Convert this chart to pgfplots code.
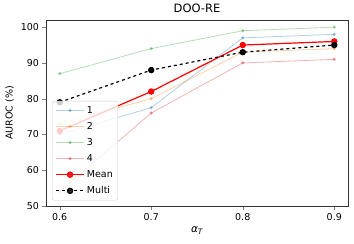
\documentclass[border=0pt]{standalone}
\usepackage{pgfplots}
\pgfplotsset{compat=1.18}
\usepackage{fontspec}
\setmainfont{DejaVu Sans}
\definecolor{tabblue}{HTML}{1F77B4}
\definecolor{taborange}{HTML}{FF7F0E}
\definecolor{tabgreen}{HTML}{2CA02C}
\definecolor{tabred}{HTML}{D62728}
\pgfplotsset{
  longleg/.style={
    legend image code/.code={
      \draw[mark repeat=2,mark phase=2] plot coordinates {(0cm,0cm) (0.5cm,0cm) (1cm,0cm)};
    }
  }
}
\begin{document}
\begin{tikzpicture}
\begin{axis}[
  at={(0pt,0pt)}, anchor=south west,
  scale only axis, width=302pt, height=186pt,
  xmin=0.585, xmax=0.915, ymin=50, ymax=102,
  xtick={0.6,0.7,0.8,0.9}, ytick={50,60,70,80,90,100},
  xticklabels={0.6,0.7,0.8,0.9},
  tick align=outside, tick pos=left,
  major tick length=3.5pt,
  /pgf/number format/assume math mode=true,
  tick label style={font=\fontsize{9.5}{11}\selectfont},
  title={DOO-RE}, title style={font=\fontsize{11.5}{13}\selectfont, yshift=-2pt},
  ylabel={AUROC (\%)}, ylabel style={font=\fontsize{9.5}{11}\selectfont},
  xlabel={\textit{α}\raisebox{-0.35ex}{\fontsize{7.5}{8}\selectfont\textit{T}}}, xlabel style={font=\fontsize{10.5}{12}\selectfont},
  axis line style={black!80},
  legend style={at={(0.02,0.03)}, anchor=south west, font=\fontsize{9.5}{11}\selectfont,
    fill=white, fill opacity=0.8, text opacity=1, draw=black!20, rounded corners=2pt,
    row sep=3.6pt, inner sep=3pt},
  legend cell align=left,
  every axis plot/.append style={longleg},
]
\addplot[tabblue, opacity=0.35, line width=0.8pt, mark=*, mark size=1.2pt] coordinates {(0.6,70) (0.7,77.5) (0.8,97) (0.9,98)};
\addlegendentry{1}
\addplot[taborange, opacity=0.35, line width=0.8pt, mark=*, mark size=1.2pt] coordinates {(0.6,73) (0.7,80) (0.8,93) (0.9,94)};
\addlegendentry{2}
\addplot[tabgreen, opacity=0.35, line width=0.8pt, mark=*, mark size=1.2pt] coordinates {(0.6,87) (0.7,94) (0.8,99) (0.9,100)};
\addlegendentry{3}
\addplot[tabred, opacity=0.35, line width=0.8pt, mark=*, mark size=1.2pt] coordinates {(0.6,54) (0.7,76) (0.8,90) (0.9,91)};
\addlegendentry{4}
\addplot[red, line width=1.2pt, mark=*, mark size=2.6pt] coordinates {(0.6,71) (0.7,82) (0.8,95) (0.9,96)};
\addlegendentry{Mean}
\addplot[black, line width=1.2pt, dashed, mark=*, mark size=2.6pt, mark options={solid}] coordinates {(0.6,79) (0.7,88) (0.8,93) (0.9,95)};
\addlegendentry{Multi}
\end{axis}
\pgfresetboundingbox
\path[use as bounding box] (-46pt,-38pt) rectangle (308pt,206pt);
\end{tikzpicture}
\end{document}
